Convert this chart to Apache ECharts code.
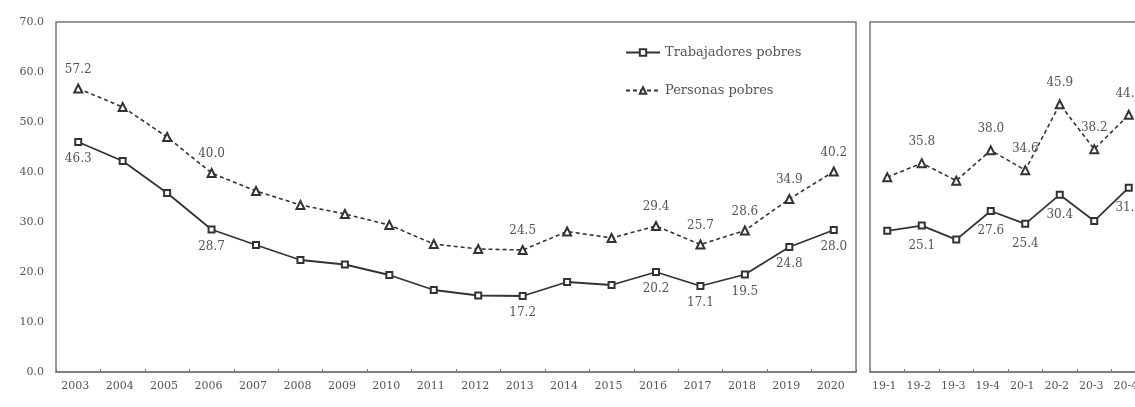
<!DOCTYPE html>
<html>
<head>
<meta charset="utf-8">
<script src="https://cdn.jsdelivr.net/npm/echarts@6/dist/echarts.min.js"></script>
<style>html,body{margin:0;padding:0;background:#fff;overflow:hidden;width:1135px;height:407px;}#c{width:1146px;height:407px;}</style>
</head>
<body>
<div id="c"></div>
<script>
var years = ['2003','2004','2005','2006','2007','2008','2009','2010','2011','2012','2013','2014','2015','2016','2017','2018','2019','2020'];
var trabAnual = [46.0, 42.2, 35.8, 28.5, 25.4, 22.4, 21.5, 19.4, 16.4, 15.3, 15.2, 18.0, 17.4, 20.0, 17.2, 19.5, 25.0, 28.4];
var persAnual = [56.7, 53.0, 47.0, 39.8, 36.2, 33.4, 31.6, 29.4, 25.6, 24.6, 24.4, 28.1, 26.8, 29.2, 25.5, 28.3, 34.6, 40.1];
var trabAnualLbl = ['46.3','','','28.7','','','','','','','17.2','','','20.2','17.1','19.5','24.8','28.0'];
var persAnualLbl = ['57.2','','','40.0','','','','','','','24.5','','','29.4','25.7','28.6','34.9','40.2'];

var trimestres = ['19-1','19-2','19-3','19-4','20-1','20-2','20-3','20-4'];
var trabTrim = [24.2, 25.1, 22.7, 27.6, 25.4, 30.4, 25.9, 31.6];
var persTrim = [33.4, 35.8, 32.8, 38.0, 34.6, 45.9, 38.2, 44.1];
var trabTrimLbl = ['', '25.1', '', '27.6', '25.4', '30.4', '', '31.6'];
var persTrimLbl = ['', '35.8', '', '38.0', '34.6', '45.9', '38.2', '44.1'];

var yTicks = [0, 10, 20, 30, 40, 50, 60, 70];

var FONT = 'DejaVu Serif';
var TXT = '#555';
var LINE = '#333';

function xAx(gi, cats) {
  return {
    type: 'category', gridIndex: gi, data: cats, boundaryGap: true,
    axisLine: { show: true, lineStyle: { color: '#777', width: 1.5 } },
    axisTick: { show: true, inside: true, length: 3, lineStyle: { color: '#777' } },
    axisLabel: { color: TXT, fontFamily: FONT, fontSize: 11, margin: 9, interval: 0, padding: [0, 6, 0, 0] },
    splitLine: { show: false }
  };
}

function lineSeries(name, gi, data, lbls, dashed, sym, symSize, pos, dist) {
  return {
    name: name, type: 'line', xAxisIndex: gi, yAxisIndex: gi, data: data,
    symbol: sym, symbolSize: symSize,
    lineStyle: { color: LINE, width: dashed ? 1.6 : 1.8, type: dashed ? [4, 3] : 'solid' },
    itemStyle: { color: LINE, borderColor: LINE, borderWidth: 1.2 },
    label: {
      show: true, position: pos, distance: dist, color: TXT, fontFamily: FONT, fontSize: 12,
      formatter: function (p) { return lbls[p.dataIndex]; }
    },
    labelLayout: { hideOverlap: false },
    emphasis: { disabled: true },
    animation: false
  };
}

var chart = echarts.init(document.getElementById('c'));
chart.setOption({
  backgroundColor: '#fff',
  animation: false,
  grid: [
    { left: 56, top: 22, width: 800, bottom: 35, show: true, borderColor: '#777', borderWidth: 1.5, backgroundColor: 'transparent' },
    { left: 870, top: 22, right: 0, bottom: 35, show: true, borderColor: '#777', borderWidth: 1.5, backgroundColor: 'transparent' }
  ],
  legend: {
    data: ['Trabajadores pobres', 'Personas pobres'],
    orient: 'vertical', left: 620, top: 41, itemGap: 25, itemWidth: 34, itemHeight: 8,
    textStyle: { color: TXT, fontFamily: FONT, fontSize: 13 },
    selectedMode: false
  },
  xAxis: [xAx(0, years), xAx(1, trimestres)],
  yAxis: [
    {
      type: 'value', gridIndex: 0, min: yTicks[0], max: yTicks[yTicks.length - 1], interval: 10,
      axisLine: { show: false }, axisTick: { show: false }, splitLine: { show: false },
      axisLabel: { color: TXT, fontFamily: FONT, fontSize: 11, margin: 12, formatter: function (v) { return v.toFixed(1); } }
    },
    {
      type: 'value', gridIndex: 1, min: 0, max: 60,
      axisLine: { show: false }, axisTick: { show: false }, splitLine: { show: false }, axisLabel: { show: false }
    }
  ],
  series: [
    lineSeries('Trabajadores pobres', 0, trabAnual, trabAnualLbl, false, 'emptyRect', 6, 'bottom', 7),
    lineSeries('Personas pobres', 0, persAnual, persAnualLbl, true, 'emptyTriangle', 8, 'top', 8),
    lineSeries('Trabajadores pobres', 1, trabTrim, trabTrimLbl, false, 'emptyRect', 6, 'bottom', 10),
    lineSeries('Personas pobres', 1, persTrim, persTrimLbl, true, 'emptyTriangle', 8, 'top', 10)
  ]
});
</script>
</body>
</html>
